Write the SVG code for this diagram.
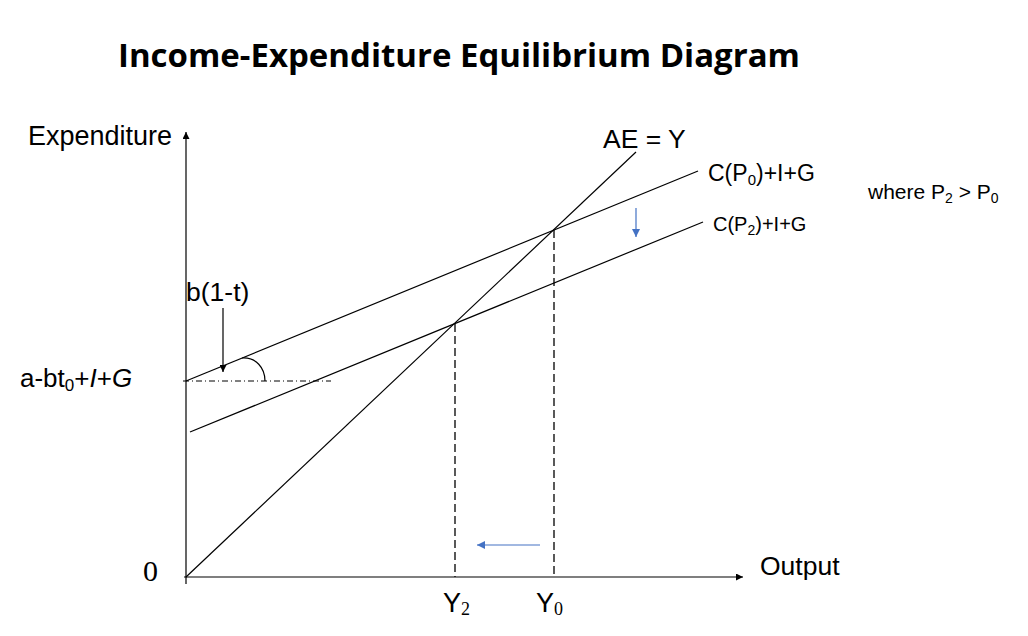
<svg xmlns="http://www.w3.org/2000/svg" width="1028" height="636" viewBox="0 0 1028 636">
<style>
.ln{stroke:#000;stroke-width:1.2;fill:none}
.dash{stroke:#000;stroke-width:1.3;fill:none;stroke-dasharray:8 4}
.blue{stroke:#4472C4;stroke-width:1.2;fill:none}
.t{font-family:"Liberation Sans",Arial,sans-serif;fill:#000}
.n{font-family:"Liberation Sans Narrow","Liberation Sans",Arial,sans-serif;fill:#000}
.s{font-family:"Liberation Serif","Times New Roman",serif}
</style>
<defs>
<marker id="ah" viewBox="0 0 10 10" refX="10" refY="5" markerWidth="7" markerHeight="7" markerUnits="userSpaceOnUse" orient="auto"><path d="M0,0 L10,5 L0,10 z" fill="#000"/></marker>
<marker id="ahb" viewBox="0 0 10 10" refX="10" refY="5" markerWidth="8" markerHeight="8" markerUnits="userSpaceOnUse" orient="auto"><path d="M0,0 L10,5 L0,10 z" fill="#4472C4"/></marker>
</defs>
<rect width="1028" height="636" fill="#fff"/>
<text id="title" x="118" y="67" font-family="'Open Sans','Noto Sans',sans-serif" font-weight="bold" font-size="32" textLength="682" lengthAdjust="spacingAndGlyphs">Income-Expenditure Equilibrium Diagram</text>
<g id="connectors">
<line id="y-axis" class="ln" x1="186" y1="584" x2="186" y2="132" marker-end="url(#ah)"/>
<line id="x-axis" class="ln" x1="184" y1="577" x2="743" y2="577" marker-end="url(#ah)"/>
<line id="ae-line" class="ln" x1="186" y1="577" x2="636" y2="152"/>
<line id="cp0-line" class="ln" x1="186" y1="381" x2="698" y2="171"/>
<line id="cp2-line" class="ln" x1="190" y1="432" x2="703" y2="222"/>
<line class="dash" x1="455" y1="324" x2="455" y2="577"/>
<line class="dash" x1="554" y1="230" x2="554" y2="577"/>
<line id="intercept" x1="183" y1="381" x2="331" y2="381" stroke="#000" stroke-width="1" stroke-dasharray="6 3 1 3"/>
<line class="ln" x1="223" y1="308" x2="223" y2="372" marker-end="url(#ah)"/>
<path class="ln" d="M242,358 C256,357 265,368 265,381"/>
<line class="blue" x1="636" y1="208" x2="636" y2="237" marker-end="url(#ahb)"/>
<line class="blue" x1="540" y1="545" x2="477" y2="545" marker-end="url(#ahb)"/>
</g>
<g id="label-expenditure"><text class="t" x="28" y="145" font-size="27">Expenditure</text></g>
<g id="label-output"><text class="t" x="760" y="575" font-size="26.5">Output</text></g>
<g id="label-zero"><text class="s" x="143" y="581" font-size="30">0</text></g>
<g id="label-ae"><text class="t" x="603" y="148" font-size="26.5">AE = Y</text></g>
<g id="label-cp0"><text class="t" x="708" y="181" font-size="23">C(P<tspan font-size="15" dy="4">0</tspan><tspan dy="-4">)+I+G</tspan></text></g>
<g id="label-cp2"><text class="t" x="713" y="231" font-size="20">C(P<tspan font-size="14" dy="4">2</tspan><tspan dy="-4">)+I+G</tspan></text></g>
<g id="label-where"><text class="t" x="868" y="199" font-size="21">where P<tspan font-size="14" dy="4">2</tspan><tspan dy="-4"> &gt; P</tspan><tspan font-size="14" dy="4">0</tspan></text></g>
<g id="label-b"><text class="t" x="186" y="301" font-size="26.5">b(1-t)</text></g>
<g id="label-intercept"><text class="t" x="20" y="387" font-size="26">a-bt<tspan font-size="17" dy="4">0</tspan><tspan dy="-4">+</tspan><tspan font-style="italic">I</tspan>+<tspan font-style="italic">G</tspan></text></g>
<g id="label-y2"><text class="n" x="443" y="612" font-size="27">Y<tspan class="s" font-size="18" dy="3">2</tspan></text></g>
<g id="label-y0"><text class="n" x="536" y="612" font-size="27">Y<tspan class="s" font-size="18" dy="3">0</tspan></text></g>
</svg>
